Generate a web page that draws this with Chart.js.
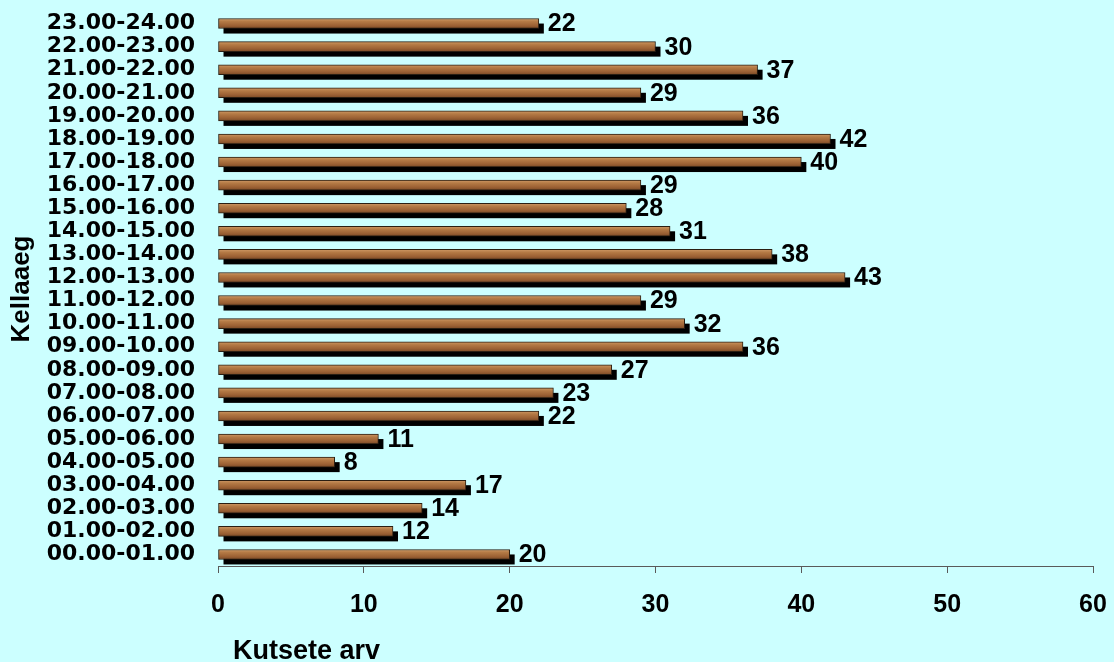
<!DOCTYPE html>
<html>
<head>
<meta charset="utf-8">
<script src="https://cdn.jsdelivr.net/npm/chart.js@4"></script>
<style>
  html, body { margin: 0; padding: 0; background: #ccffff; }
  #wrap { width: 1114px; height: 662px; }
</style>
</head>
<body>
<div id="wrap"><canvas id="BarChart"></canvas></div>
<script>
const hours = ["00.00-01.00", "01.00-02.00", "02.00-03.00", "03.00-04.00", "04.00-05.00", "05.00-06.00",
	"06.00-07.00", "07.00-08.00", "08.00-09.00", "09.00-10.00", "10.00-11.00", "11.00-12.00",
	"12.00-13.00", "13.00-14.00", "14.00-15.00", "15.00-16.00", "16.00-17.00", "17.00-18.00",
	"18.00-19.00", "19.00-20.00", "20.00-21.00", "21.00-22.00", "22.00-23.00", "23.00-24.00"];
const calls = [20, 12, 14, 17, 8, 11, 22, 23, 27, 36, 32, 29, 43, 38, 31, 28, 29, 40, 42, 36, 29, 37, 30, 22];
const x_ticks = [0, 10, 20, 30, 40, 50, 60];

const ARIAL = "'Liberation Sans', Arial, sans-serif";
const WIDE = "'DejaVu Sans', sans-serif";
const SHADOW = 5;
const BAR = 10;

// brown "wood" fill, lighter on top and darker at the bottom of each bar
function wood_fill(context) {
	const chart = context.chart;
	const y_scale = chart.scales.y;
	if (!chart.chartArea || !y_scale || context.dataIndex === undefined)
		return "#a7693b";
	const y = y_scale.getPixelForValue(context.dataIndex);
	const gradient = chart.ctx.createLinearGradient(0, y - BAR / 2, 0, y + BAR / 2);
	gradient.addColorStop(0, "#cf9a66");
	gradient.addColorStop(0.3, "#b47a45");
	gradient.addColorStop(0.7, "#9c6134");
	gradient.addColorStop(1, "#7a4a26");
	return gradient;
}

// black drop shadow under every bar, taken from the bar elements themselves
const bar_shadow = {
	id: "bar_shadow",
	beforeDatasetsDraw(chart) {
		const ctx = chart.ctx;
		const meta = chart.getDatasetMeta(0);
		ctx.save();
		ctx.fillStyle = "#000000";
		meta.data.forEach(bar => {
			const { x, y, base, height } = bar.getProps(["x", "y", "base", "height"], true);
			ctx.fillRect(base + SHADOW, y - height / 2 + SHADOW, x - base, height);
		});
		ctx.restore();
	}
};

const value_labels = {
	id: "value_labels",
	afterDatasetsDraw(chart) {
		const ctx = chart.ctx;
		const meta = chart.getDatasetMeta(0);
		ctx.save();
		ctx.font = "bold 25px " + ARIAL;
		ctx.fillStyle = "#000000";
		ctx.textAlign = "left";
		ctx.textBaseline = "middle";
		meta.data.forEach((bar, i) => {
			ctx.fillText(String(calls[i]), bar.x + 9, bar.y + 1);
		});
		ctx.restore();
	}
};

const context = document.getElementById("BarChart").getContext("2d");
const chart = new Chart(context, {
	type: "bar",
	data: {
		labels: hours,
		datasets: [{
			data: calls,
			backgroundColor: wood_fill,
			borderColor: "#2a1e12",
			borderWidth: 1,
			borderSkipped: false,
			barThickness: BAR
		}]
	},
	options: {
		indexAxis: "y",
		responsive: true,
		maintainAspectRatio: false,
		animation: false,
		layout: { padding: { top: 12, right: 21, left: 0, bottom: 0 } },
		plugins: {
			legend: { display: false },
			tooltip: { enabled: false }
		},
		scales: {
			x: {
				min: 0,
				max: 60,
				afterBuildTicks: scale => { scale.ticks = x_ticks.map(v => ({ value: v })); },
				afterFit: scale => {
					scale.height = 96;
					scale.paddingLeft = 0;
					scale.paddingRight = 0;
				},
				grid: { drawOnChartArea: false, tickLength: 7, color: "#5a5a5a" },
				border: { color: "#5a5a5a", width: 1 },
				ticks: {
					padding: 17,
					color: "#000000",
					font: { family: ARIAL, size: 25, weight: "bold" },
					maxRotation: 0
				},
				title: {
					display: true,
					text: "  Kutsete arv",
					align: "start",
					color: "#000000",
					font: { family: ARIAL, size: 27, weight: "bold", lineHeight: 1 },
					padding: { top: 0, bottom: -3 }
				}
			},
			y: {
				reverse: true,
				afterFit: scale => {
					scale.width = 218;
					scale.paddingTop = 0;
					scale.paddingBottom = 0;
				},
				grid: { display: false, drawTicks: false },
				border: { display: false },
				ticks: {
					padding: 23,
					color: "#000000",
					autoSkip: false,
					font: { family: WIDE, size: 22, weight: "bold" }
				},
				title: {
					display: true,
					text: "Kellaaeg",
					color: "#000000",
					font: { family: ARIAL, size: 26, weight: "bold" },
					padding: { top: 6, bottom: 0 }
				}
			}
		}
	},
	plugins: [bar_shadow, value_labels]
});
</script>
</body>
</html>
